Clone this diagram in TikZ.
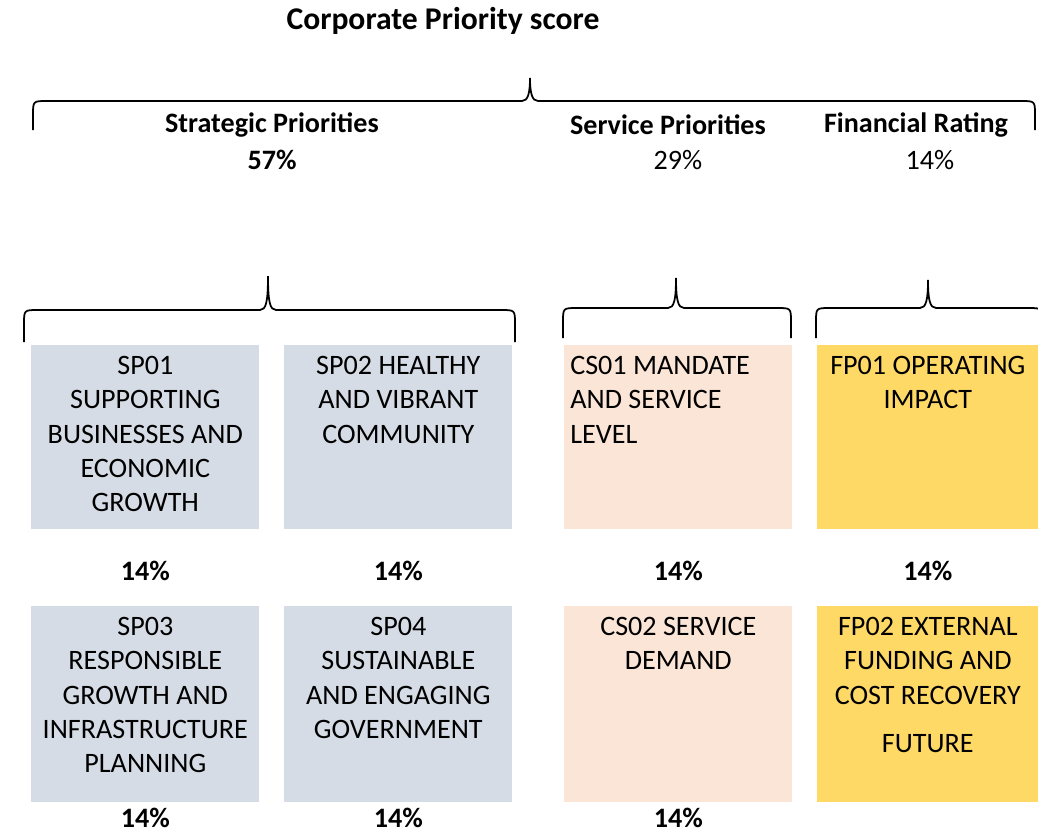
\documentclass[tikz,border=0pt]{standalone}
\usepackage{fontspec}
\setmainfont{Carlito}
\usetikzlibrary{positioning,calc}

\definecolor{spfill}{HTML}{D6DCE5}
\definecolor{csfill}{HTML}{FBE5D6}
\definecolor{fpfill}{HTML}{FFD966}

% curly brace: left x, right x, tip x, tip y, bar y, end y
\newcommand{\prioritybrace}[6]{%
\draw[bracepen] (#1,#6) -- (#1,{#5+14}) .. controls (#1,#5) .. ({#1+14},#5)
  -- ({#3-8},#5) .. controls ({#3-2},#5) and (#3,{#5-8}) .. (#3,#4)
  .. controls (#3,{#5-8}) and ({#3+2},#5) .. ({#3+8},#5)
  -- ({#2-14},#5) .. controls (#2,#5) .. (#2,{#5+14}) -- (#2,#6);}

\begin{document}
\begin{tikzpicture}[x=0.02cm,y=-0.02cm,
  font=\fontsize{16}{19.5}\selectfont,
  bracepen/.style={line width=1pt},
  card/.style={anchor=north west,minimum width=4.56cm,inner sep=0pt},
  rowone/.style={card,minimum height=3.68cm},
  rowtwo/.style={card,minimum height=3.92cm},
  spbox/.style={fill=spfill},
  csbox/.style={fill=csfill},
  fpbox/.style={fill=fpfill,minimum width=4.42cm},
  boxtext/.style={inner sep=0pt,align=center},
  head/.style={font=\fontsize{16}{19.5}\selectfont\bfseries}]
\useasboundingbox (0,0) rectangle (1038,832);

% headings
\node[head,font=\fontsize{18}{22}\selectfont\bfseries] (title) at (443,21) {Corporate Priority score};
\node[head] (strat) at (272,125) {Strategic Priorities};
\node[head] (strat pct) at (272,160) {57\%};
\node[head] (serv) at (668,125) {Service Priorities};
\node (serv pct) at (678,160) {29\%};
\node[head] (fin) at (916,125) {Financial Rating};
\node (fin pct) at (930,160) {14\%};

% braces
\prioritybrace{33}{1035}{530}{78}{101}{130}
\prioritybrace{24}{515}{268}{276}{310}{342}
\prioritybrace{563}{791}{676}{278}{308}{338}
\prioritybrace{816}{1042}{928}{280}{308}{338}

% first row
\node[rowone,spbox] (sp01) at (31,345) {};
\node[rowone,spbox] (sp02) at (284,345) {};
\node[rowone,csbox] (cs01) at (564,345) {};
\node[rowone,fpbox] (fp01) at (817,345) {};

\node[boxtext,below=0.22cm of sp01.north] (sp01 text)
  {SP01\\SUPPORTING\\BUSINESSES AND\\ECONOMIC\\GROWTH};
\node[boxtext,below=0.22cm of sp02.north] (sp02 text)
  {SP02 HEALTHY\\AND VIBRANT\\COMMUNITY};
\node[boxtext,align=left,anchor=north west] (cs01 text)
  at ([xshift=0.12cm,yshift=-0.22cm]cs01.north west)
  {CS01 MANDATE\\AND SERVICE\\LEVEL};
\node[boxtext,below=0.22cm of fp01.north] (fp01 text)
  {FP01 OPERATING\\IMPACT};

\node[head] (sp01 pct) at ($(sp01.south)+(0,41)$) {14\%};
\node[head] (sp02 pct) at ($(sp02.south)+(0,41)$) {14\%};
\node[head] (cs01 pct) at ($(cs01.south)+(0,41)$) {14\%};
\node[head] (fp01 pct) at ($(fp01.south)+(0,41)$) {14\%};

% second row
\node[rowtwo,spbox] (sp03) at (31,606) {};
\node[rowtwo,spbox] (sp04) at (284,606) {};
\node[rowtwo,csbox] (cs02) at (564,606) {};
\node[rowtwo,fpbox] (fp02) at (817,606) {};

\node[boxtext,below=0.22cm of sp03.north] (sp03 text)
  {SP03\\RESPONSIBLE\\GROWTH AND\\INFRASTRUCTURE\\PLANNING};
\node[boxtext,below=0.22cm of sp04.north] (sp04 text)
  {SP04\\SUSTAINABLE\\AND ENGAGING\\GOVERNMENT};
\node[boxtext,below=0.22cm of cs02.north] (cs02 text)
  {CS02 SERVICE\\DEMAND};
\node[boxtext,below=0.22cm of fp02.north] (fp02 text)
  {FP02 EXTERNAL\\FUNDING AND\\COST RECOVERY\\[0.28cm]FUTURE};

\node[head] (sp03 pct) at ($(sp03.south)+(0,15)$) {14\%};
\node[head] (sp04 pct) at ($(sp04.south)+(0,15)$) {14\%};
\node[head] (cs02 pct) at ($(cs02.south)+(0,15)$) {14\%};
\end{tikzpicture}
\end{document}
